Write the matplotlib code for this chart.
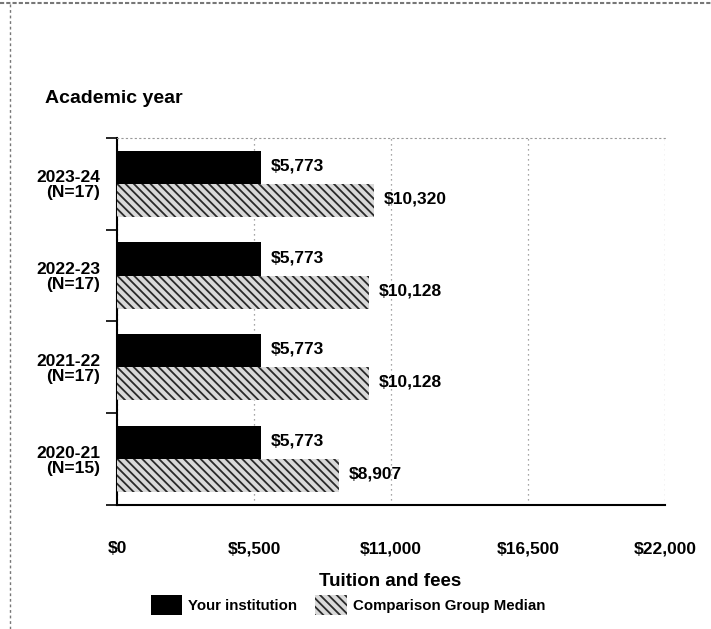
import matplotlib.pyplot as plt
from matplotlib.lines import Line2D
import numpy as np

years = ["2023-24", "2022-23", "2021-22", "2020-21"]
group_n = [17, 17, 17, 15]
your_inst = [5773, 5773, 5773, 5773]
group_median = [10320, 10128, 10128, 8907]
xticks = [0, 5500, 11000, 16500, 22000]

plt.rcParams['font.family'] = ['Liberation Sans', 'DejaVu Sans']
plt.rcParams['hatch.linewidth'] = 1.3

fig = plt.figure(figsize=(7.11, 6.29), dpi=100)
ax = fig.add_axes([0.1646, 0.197, 0.771, 0.584])

y = np.arange(len(years))[::-1]
h = 0.36
b1 = ax.barh(y + 0.18, your_inst, height=h, color='black', zorder=3,
             label='Your institution')
b2 = ax.barh(y - 0.18, group_median, height=h, color='#d9d9d9',
             edgecolor='#2a2a2a', linewidth=0, hatch='\\\\\\\\', zorder=3,
             label='Comparison Group Median')

for bars in (b1, b2):
    for bar in bars:
        w = bar.get_width()
        ax.annotate(f"${w:,}", (w, bar.get_y() + bar.get_height() / 2),
                    xytext=(7, 1), textcoords='offset points',
                    ha='left', va='center', fontsize=12.5, fontweight='bold')

ax.set_xlim(0, 22000)
ax.set_ylim(-0.5, len(years) - 0.5)
ax.set_xticks(xticks)
ax.set_xticklabels([f"${v:,}" for v in xticks], fontsize=12.5, fontweight='bold')
ax.tick_params(axis='x', length=0, pad=26)

ax.set_yticks(np.arange(len(years) + 1) - 0.5)
ax.set_yticklabels([])
ax.tick_params(axis='y', which='major', length=8, width=1.2, direction='out')
ax.set_yticks(y, minor=True)
ax.set_yticklabels([f"{yr}\n(N={n})" for yr, n in zip(years, group_n)],
                   minor=True, fontsize=12.5, fontweight='bold', linespacing=1.0)
ax.tick_params(axis='y', which='minor', length=0, pad=12)

ax.grid(axis='x', linestyle=(0, (1, 3)), color='#888888', linewidth=0.9, zorder=0)
ax.spines['right'].set_visible(False)
ax.spines['top'].set_linestyle((0, (1, 3)))
ax.spines['top'].set_color('#999999')
ax.spines['left'].set_linewidth(1.5)
ax.spines['bottom'].set_linewidth(1.5)

fig.text(45 / 711, 1 - 90 / 629, "Academic year", fontsize=14, fontweight='bold',
         ha='left', va='top')
fig.text(390 / 711, 1 - 582 / 629, "Tuition and fees", fontsize=13.5,
         fontweight='bold', ha='center', va='center')

fig.legend(handles=[b1, b2], loc='center', bbox_to_anchor=(348 / 711, 1 - 605 / 629),
           ncol=2, frameon=False, handlelength=2.1, handleheight=1.7,
           handletextpad=0.4, columnspacing=1.2,
           prop={'size': 10.8, 'weight': 'bold'})

# scan frame edges
fig.add_artist(Line2D([10 / 711, 10 / 711], [0, 0.995], transform=fig.transFigure,
                      color='#777777', linewidth=1, linestyle=(0, (2, 2))))
fig.add_artist(Line2D([0, 1], [0.996, 0.996], transform=fig.transFigure,
                      color='#777777', linewidth=1.5, linestyle=(0, (2, 1))))

fig.savefig('out.png', dpi=100)
